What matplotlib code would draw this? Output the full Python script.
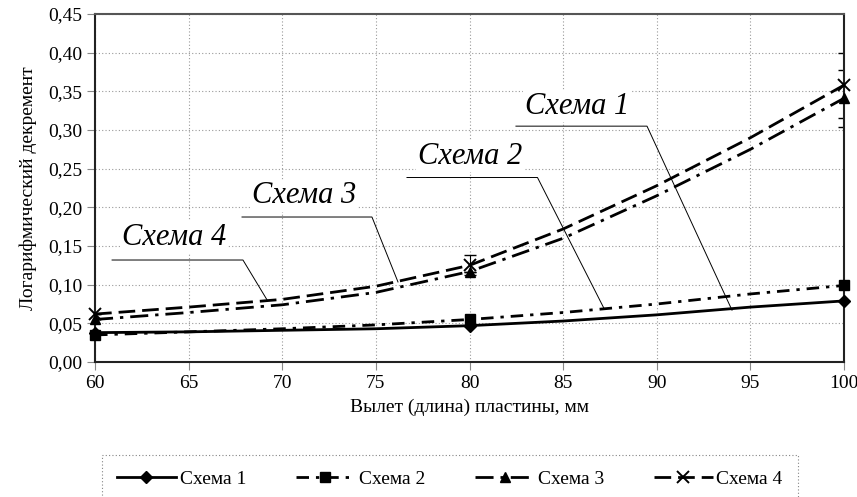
import matplotlib
matplotlib.use("Agg")
import matplotlib.pyplot as plt
from matplotlib.ticker import FuncFormatter, MultipleLocator

# ---- data ----
x_pts = [60, 80, 100]
s1_pts = [0.038, 0.047, 0.079]
s2_pts = [0.035, 0.055, 0.099]
s3_pts = [0.055, 0.117, 0.341]
s4_pts = [0.062, 0.125, 0.358]

# smoothed curves as drawn in the picture (values read every 5 mm)
x_curve = [60, 65, 70, 75, 80, 85, 90, 95, 100]
s1_curve = [0.038, 0.039, 0.041, 0.043, 0.047, 0.053, 0.061, 0.071, 0.079]
s2_curve = [0.035, 0.039, 0.043, 0.048, 0.055, 0.064, 0.075, 0.088, 0.099]
s3_curve = [0.055, 0.064, 0.074, 0.090, 0.117, 0.160, 0.215, 0.275, 0.341]
s4_curve = [0.062, 0.071, 0.081, 0.098, 0.125, 0.172, 0.228, 0.290, 0.358]

# error bars
s3_err = [0.0, 0.0, 0.037]
s4_err = [0.0, 0.013, 0.042]

names = ["Схема 1", "Схема 2", "Схема 3", "Схема 4"]
xlabel = "Вылет (длина) пластины, мм"
ylabel = "Логарифмический декремент"

plt.rcParams['font.family'] = ['Liberation Serif', 'DejaVu Serif']

fig = plt.figure(figsize=(8.57, 4.97), dpi=100)
ax = fig.add_axes([0.1109, 0.2716, 0.8739, 0.7002])

lw = 2.0
styles = [
    dict(ls='-', marker='D', ms=6),
    dict(ls=(0, (4.5, 2.5, 1.2, 2.5)), marker='s', ms=7.5),
    dict(ls=(0, (6.5, 2.5, 1.2, 2.5)), marker='^', ms=7.5),
    dict(ls=(0, (6.0, 2.5)), marker='x', ms=8, mew=1.4),
]
curves = [s1_curve, s2_curve, s3_curve, s4_curve]
pts = [s1_pts, s2_pts, s3_pts, s4_pts]

handles = []
for name, cv, pv, st in zip(names, curves, pts, styles):
    ax.plot(x_curve, cv, color='black', lw=lw, ls=st['ls'], zorder=3)
    ax.plot(x_pts, pv, color='black', ls='none', marker=st['marker'],
            ms=st['ms'], mew=st.get('mew', 1), zorder=4, clip_on=False)
    h, = ax.plot([], [], color='black', lw=lw, ls=st['ls'], marker=st['marker'],
                 ms=st['ms'], mew=st.get('mew', 1), label=name)
    handles.append(h)

ax.errorbar(x_pts, s3_pts, yerr=s3_err, fmt='none', ecolor='black', elinewidth=0.8,
            capsize=4, capthick=1.0, zorder=2)
ax.errorbar(x_pts, s4_pts, yerr=s4_err, fmt='none', ecolor='black', elinewidth=0.8,
            capsize=4, capthick=1.0, zorder=2)

ax.set_xlim(60, 100)
ax.set_ylim(0, 0.45)
ax.xaxis.set_major_locator(MultipleLocator(5))
ax.yaxis.set_major_locator(MultipleLocator(0.05))
ax.yaxis.set_major_formatter(FuncFormatter(lambda v, p: f"{v:.2f}".replace('.', ',')))
ax.grid(True, color='#999999', ls=(0, (1, 2)), lw=0.8)
ax.set_axisbelow(True)
for name_sp, sp in ax.spines.items():
    sp.set_linewidth(1.5)
    sp.set_color('#555555' if name_sp == 'top' else '#222222')
ax.tick_params(direction='out', length=6, width=0.8, color='#888888',
               labelcolor='black', labelsize=14, pad=3)
ax.set_xlabel(xlabel, fontsize=14, labelpad=5)
ax.set_ylabel(ylabel, fontsize=14, labelpad=8)

# annotations with leader lines
ann = [
    # text pos, underline x0, x1, underline y, end x, end y
    ("Схема 1", (85.74, 0.331), 82.48, 89.48, 0.305, 94.02, 0.067),
    ("Схема 2", (80.03, 0.266), 76.66, 83.63, 0.2386, 87.2, 0.0685),
    ("Схема 3", (71.16, 0.2147), 67.85, 74.79, 0.1875, 76.18, 0.1035),
    ("Схема 4", (64.22, 0.1616), 60.91, 67.90, 0.1319, 69.19, 0.0802),
]
for txt, tp, ux0, ux1, uy, ex, ey in ann:
    ax.text(tp[0], tp[1], txt, fontsize=22, style='italic', ha='center', va='center',
            bbox=dict(facecolor='white', edgecolor='none', pad=1), zorder=5)
    ax.plot([ux0, ux1, ex], [uy, uy, ey], color='black', lw=0.7, zorder=5)

leg = fig.legend(handles=handles, loc='upper left', ncol=4, mode='expand',
                 bbox_to_anchor=(92 / 857, 1 - 455 / 497, 716 / 857, 0.02), fontsize=14,
                 handlelength=3.0, handletextpad=0.2, frameon=True, fancybox=False,
                 borderpad=0.8)
fr = leg.get_frame()
fr.set_edgecolor('#666666')
fr.set_linestyle((0, (1, 2)))
fr.set_linewidth(0.8)

fig.savefig("out.png", dpi=100)
